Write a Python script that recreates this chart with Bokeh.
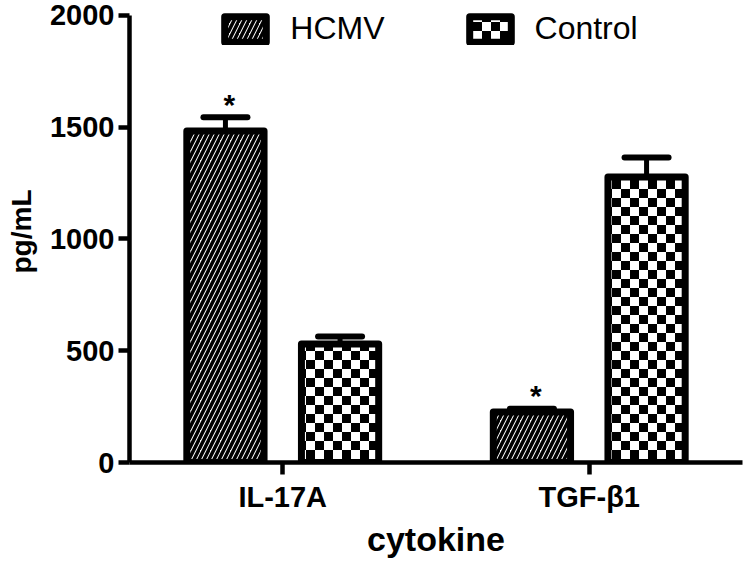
import base64
import struct
import zlib

from bokeh.plotting import figure
from bokeh.models import (FactorRange, Range1d, ColumnDataSource, Whisker, TeeHead,
                          FixedTicker, Legend, LegendItem, ImageURLTexture)
from bokeh.transform import dodge
from bokeh.core.properties import value
from bokeh.embed import file_html
from bokeh.resources import INLINE

# ---- data ----
cytokines = ["IL-17A", "TGF-β1"]
groups = ["HCMV", "Control"]
hcmv_mean = [1483, 226]
hcmv_err = [62, 15]
control_mean = [530, 1277]
control_err = [34, 88]
hcmv_marks = ["*", "*"]
y_ticks = [0, 500, 1000, 1500, 2000]
y_axis_bounds = (0, 2000)

src = ColumnDataSource(dict(
    cytokine=cytokines,
    hcmv=hcmv_mean,
    hcmv_hi=[m + e for m, e in zip(hcmv_mean, hcmv_err)],
    control=control_mean,
    control_hi=[m + e for m, e in zip(control_mean, control_err)],
    marks=hcmv_marks,
))

SANS = "Liberation Sans"


# ---- checkerboard fill texture (style only) ----
def checker_png(cell=9):
    size = 2 * cell
    rows = []
    for yy in range(size):
        row = bytes(0 if ((xx // cell) + (yy // cell)) % 2 == 0 else 255 for xx in range(size))
        rows.append(b"\x00" + row)
    raw = b"".join(rows)

    def chunk(tag, data):
        return (struct.pack(">I", len(data)) + tag + data +
                struct.pack(">I", zlib.crc32(tag + data) & 0xFFFFFFFF))

    png = (b"\x89PNG\r\n\x1a\n" +
           chunk(b"IHDR", struct.pack(">IIBBBBB", size, size, 8, 0, 0, 0, 0)) +
           chunk(b"IDAT", zlib.compress(raw)) +
           chunk(b"IEND", b""))
    return "data:image/png;base64," + base64.b64encode(png).decode()


checker = ImageURLTexture(url=checker_png(9), repetition="repeat")

# frame reaches up to the top of the page so the legend is not clipped;
# the y axis itself is bounded to 0..2000
p = figure(frame_width=613, frame_height=462,
           x_range=FactorRange(*cytokines, range_padding=0),
           y_range=Range1d(0, 2067),
           output_backend="svg", toolbar_location=None,
           min_border_left=129, min_border_right=6,
           min_border_top=0, min_border_bottom=90)

off = 0.187
bw = 0.252

r_h = p.vbar(x=dodge("cytokine", -off, range=p.x_range), top="hcmv", bottom=0,
             width=bw, source=src, fill_color="white", line_color="black",
             line_width=7, line_join="round",
             hatch_pattern="/", hatch_color="black", hatch_weight=3.5, hatch_scale=10)

r_c = p.vbar(x=dodge("cytokine", off, range=p.x_range), top="control", bottom=0,
             width=bw, source=src, fill_color="white", line_color="black",
             line_width=7, line_join="round",
             hatch_pattern=value("checker"), hatch_extra={"checker": checker},
             hatch_color="black", hatch_scale=18)

for key, hi, d in (("hcmv", "hcmv_hi", -off), ("control", "control_hi", off)):
    w = Whisker(source=src, base=dodge("cytokine", d, range=p.x_range),
                lower=key, upper=hi, dimension="height",
                line_color="black", line_width=5,
                upper_head=TeeHead(size=44, line_width=6, line_color="black", line_cap="round"),
                lower_head=None)
    p.add_layout(w)

p.text(x=dodge("cytokine", -off, range=p.x_range), y="hcmv_hi", text="marks",
       source=src, text_font=value(SANS), text_font_size="30px",
       text_font_style="bold", text_align="center", text_baseline="alphabetic",
       x_offset=4, y_offset=-13, text_color="black")

legend = Legend(items=[LegendItem(label=groups[0], renderers=[r_h]),
                       LegendItem(label=groups[1], renderers=[r_c])],
                orientation="horizontal", location=(90.3, 415),
                glyph_width=52, glyph_height=32, label_height=32,
                label_standoff=19, spacing=79, padding=0, margin=0,
                border_line_color=None, background_fill_alpha=0,
                label_text_font=SANS, label_text_font_size="32px",
                label_text_color="black")
p.add_layout(legend)

p.xgrid.visible = False
p.ygrid.visible = False
p.outline_line_color = None

for ax in (p.xaxis[0], p.yaxis[0]):
    ax.axis_line_width = 4.5
    ax.axis_line_color = "black"
    ax.major_tick_line_width = 4.5
    ax.major_tick_line_color = "black"
    ax.major_tick_in = 0
    ax.minor_tick_line_color = None
    ax.major_label_text_font = SANS
    ax.major_label_text_font_style = "bold"
    ax.major_label_text_color = "black"
    ax.axis_label_text_font = SANS
    ax.axis_label_text_font_style = "bold"
    ax.axis_label_text_color = "black"

p.yaxis.ticker = FixedTicker(ticks=y_ticks)
p.yaxis.bounds = y_axis_bounds
p.yaxis.major_tick_out = 11
p.yaxis.major_label_standoff = 4
p.yaxis.major_label_text_font_size = "29px"
p.yaxis.axis_label = "pg/mL"
p.yaxis.axis_label_text_font_size = "28px"
p.yaxis.axis_label_standoff = 10

p.xaxis.major_tick_out = 12
p.xaxis.major_label_standoff = 6
p.xaxis.major_label_text_font_size = "29px"
p.xaxis.axis_label = "cytokine"
p.xaxis.axis_label_text_font_size = "34px"
p.xaxis.axis_label_standoff = 4

open("out.html", "w").write(file_html(p, INLINE))
